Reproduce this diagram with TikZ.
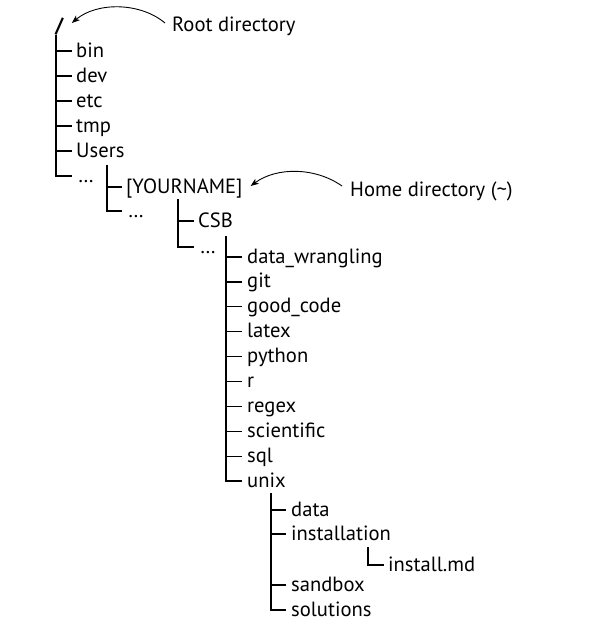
\documentclass[tikz,border=0pt]{standalone}
\usepackage{fontspec}
\setmainfont{PT Sans}
\usetikzlibrary{calc,arrows.meta}
\begin{document}
\begin{tikzpicture}[x=1pt,y=-1pt,
  item/.style={anchor=base west,inner sep=0pt,font=\fontsize{20.6}{24}\selectfont},
  branch/.style={line width=1.3pt},
  callout/.style={line width=0.9pt,-{Stealth[length=8pt,width=6pt,inset=2pt]}}]
\useasboundingbox (0,0) rectangle (598,635);
% root
\node[item,font=\fontsize{20.6}{24}\selectfont\bfseries] (root) at (55,32) {/};
\node[item] (rootlbl) at (172,31) {Root directory};
% level 1
\node[item] (bin) at (76,57) {bin};
\node[item] (dev) at (76,82) {dev};
\node[item] (etc) at (76,107) {etc};
\node[item] (tmp) at (76,132) {tmp};
\node[item] (users) at (76,157) {Users};
\node[item] (dotsA) at (78,182) {…};
\coordinate (v1) at (56,35);
\foreach \n in {bin,dev,etc,tmp,users}
  \draw[branch] (v1) |- ($(\n.base west)+(-4,-6)$);
\draw[branch] (v1) |- ($(dotsA.base west)+(-6,-6)$);
% level 2
\node[item] (yourname) at (126,193) {[YOURNAME]};
\node[item] (dotsB) at (128,217) {…};
\coordinate (v2) at (107,165);
\draw[branch] (v2) |- ($(yourname.base west)+(-4,-6)$);
\draw[branch] (v2) |- ($(dotsB.base west)+(-6,-6)$);
% level 3
\node[item] (csb) at (198,227) {CSB};
\node[item] (dotsC) at (200,253) {…};
\coordinate (v3) at (178,199);
\draw[branch] (v3) |- ($(csb.base west)+(-4,-6)$);
\draw[branch] (v3) |- ($(dotsC.base west)+(-6,-6)$);
% level 4
\node[item] (dw) at (247,263) {data\_wrangling};
\node[item] (git) at (247,287.9) {git};
\node[item] (gc) at (247,312.8) {good\_code};
\node[item] (latex) at (247,337.7) {latex};
\node[item] (python) at (247,362.6) {python};
\node[item] (r) at (247,387.5) {r};
\node[item] (regex) at (247,412.4) {regex};
\node[item] (sci) at (247,437.3) {scientific};
\node[item] (sql) at (247,462.2) {sql};
\node[item] (unix) at (247,487.1) {unix};
\coordinate (v4) at (226,236);
\foreach \n in {dw,git,gc,latex,python,r,regex,sci,sql,unix}
  \draw[branch] (v4) |- ($(\n.base west)+(-5,-6)$);
% level 5
\node[item] (data) at (291,516) {data};
\node[item] (inst) at (291,540) {installation};
\node[item] (sandbox) at (291,591) {sandbox};
\node[item] (sol) at (291,616) {solutions};
\coordinate (v5) at (271,493);
\foreach \n in {data,inst,sandbox,sol}
  \draw[branch] (v5) |- ($(\n.base west)+(-5,-6)$);
% level 6
\node[item] (imd) at (388,571) {install.md};
\coordinate (v6) at (368,547);
\draw[branch] (v6) |- ($(imd.base west)+(-4,-6)$);
% callouts
\node[item] (homelbl) at (350,196) {Home directory (\char"7E)};
\draw[callout] ($(rootlbl.base west)+(-7,-8)$) .. controls +(-25,-21) and +(25,-21) .. ($(root.base east)+(8,-9)$);
\draw[callout] ($(homelbl.base west)+(-8,-10)$) .. controls +(-27,-19) and +(26,-19) .. ($(yourname.base east)+(8,-7)$);
\end{tikzpicture}
\end{document}
